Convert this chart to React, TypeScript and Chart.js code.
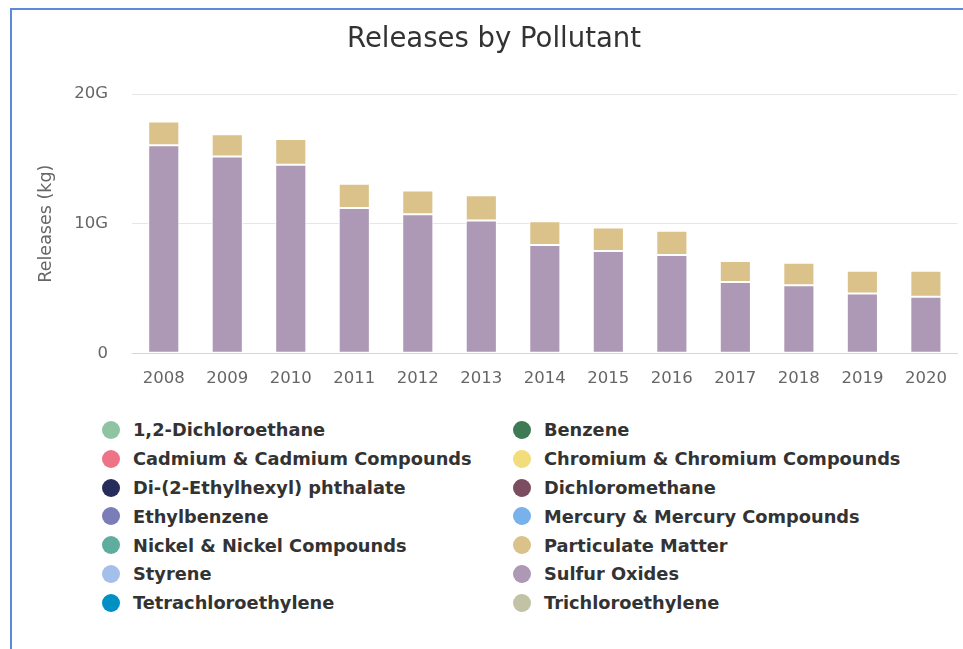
import React, { useEffect, useRef } from "react";
import { Chart, registerables } from "chart.js";

Chart.register(...registerables);

// Reporting years
const years = ["2008", "2009", "2010", "2011", "2012", "2013", "2014", "2015", "2016", "2017", "2018", "2019", "2020"];

// Releases in billions of kilograms (G)
const sulfurOxides = [16.05, 15.18, 14.54, 11.2, 10.73, 10.24, 8.36, 7.9, 7.58, 5.5, 5.24, 4.62, 4.36];
const particulateMatter = [1.83, 1.72, 1.98, 1.87, 1.83, 1.96, 1.83, 1.8, 1.87, 1.62, 1.74, 1.74, 2.0];

// Y axis ticks (G)
const yTicks = [0, 10, 20];
const yTickLabels = ["0", "10G", "20G"];

// All pollutants in the legend, with their colours
const pollutants = [
  "1,2-Dichloroethane",
  "Benzene",
  "Cadmium & Cadmium Compounds",
  "Chromium & Chromium Compounds",
  "Di-(2-Ethylhexyl) phthalate",
  "Dichloromethane",
  "Ethylbenzene",
  "Mercury & Mercury Compounds",
  "Nickel & Nickel Compounds",
  "Particulate Matter",
  "Styrene",
  "Sulfur Oxides",
  "Tetrachloroethylene",
  "Trichloroethylene",
];
const pollutantColors = [
  "#8ec4a2",
  "#3e7a53",
  "#ef7386",
  "#f3dc7c",
  "#262d5a",
  "#7c4c61",
  "#7a7db7",
  "#77b2ea",
  "#5fad9f",
  "#dbc28a",
  "#a4bfea",
  "#ad98b5",
  "#0090c4",
  "#c2c2a5",
];

const seriesValues: Record<string, number[]> = {
  "Sulfur Oxides": sulfurOxides,
  "Particulate Matter": particulateMatter,
};

const FONT = "'DejaVu Sans', Verdana, sans-serif";

export default function App() {
  const canvasRef = useRef<HTMLCanvasElement | null>(null);

  useEffect(() => {
    if (!canvasRef.current) return;
    // Sulfur Oxides sits at the bottom of each stack, Particulate Matter above it
    const stackOrder = ["Sulfur Oxides", "Particulate Matter", ...pollutants.filter((p) => !(p in seriesValues))];
    const datasets = stackOrder.map((name) => ({
      label: name,
      data: seriesValues[name] ?? [],
      backgroundColor: pollutantColors[pollutants.indexOf(name)],
      borderColor: "#ffffff",
      borderWidth: 1,
      borderSkipped: false as const,
      barPercentage: 0.49,
      categoryPercentage: 1.0,
    }));

    const chart = new Chart(canvasRef.current, {
      type: "bar",
      data: { labels: years, datasets },
      options: {
        animation: false,
        responsive: false,
        layout: { padding: { left: 16, right: 3, top: 0, bottom: 0 } },
        plugins: {
          legend: { display: false },
          tooltip: { enabled: false },
          title: {
            display: true,
            text: "Releases by Pollutant",
            color: "#333333",
            font: { family: FONT, size: 27.5, weight: "normal" },
            padding: { top: 13, bottom: 38 },
          },
        },
        scales: {
          x: {
            stacked: true,
            grid: { display: false, drawTicks: false },
            border: { display: true, color: "#ccd6eb", width: 1 },
            ticks: {
              color: "#666666",
              font: { family: FONT, size: 16.5 },
              padding: 16,
              maxRotation: 0,
            },
            afterFit: (scale: any) => {
              scale.height = 56.7;
            },
          },
          y: {
            stacked: true,
            min: 0,
            max: 20,
            afterBuildTicks: (scale: any) => {
              scale.ticks = yTicks.map((v) => ({ value: v }));
            },
            grid: {
              drawTicks: false,
              color: (ctx: any) => (ctx.tick && ctx.tick.value === 0 ? "rgba(0,0,0,0)" : "#e6e6e6"),
              lineWidth: 1,
            },
            border: { display: false },
            ticks: {
              color: "#666666",
              font: { family: FONT, size: 16.5 },
              padding: 24,
              callback: (value: any) => yTickLabels[yTicks.indexOf(Number(value))] ?? "",
            },
            title: {
              display: true,
              text: "Releases (kg)",
              color: "#666666",
              font: { family: FONT, size: 17.5 },
              padding: { top: 7.5, bottom: 0 },
            },
            afterFit: (scale: any) => {
              scale.width = 104;
            },
          },
        },
      },
    });
    return () => chart.destroy();
  }, []);

  return (
    <div
      style={{
        position: "fixed",
        left: 10,
        top: 8,
        right: 0,
        bottom: 0,
        borderTop: "2px solid #5b8ad6",
        borderLeft: "2px solid #5b8ad6",
        background: "#ffffff",
        overflow: "hidden",
      }}
    >
      <canvas ref={canvasRef} width={951} height={400} style={{ display: "block" }} />
      <div
        style={{
          display: "grid",
          gridTemplateColumns: "411px 411px",
          gridAutoRows: "28.8px",
          paddingLeft: 90,
          marginTop: 5.6,
          fontFamily: FONT,
          fontWeight: "bold",
          fontSize: 17.8,
          color: "#333333",
        }}
      >
        {pollutants.map((name, i) => (
          <div key={name} style={{ display: "flex", alignItems: "center", whiteSpace: "nowrap" }}>
            <span
              style={{
                display: "inline-block",
                width: 18,
                height: 18,
                borderRadius: "50%",
                background: pollutantColors[i],
                marginRight: 13,
                flex: "0 0 auto",
              }}
            />
            <span>{name}</span>
          </div>
        ))}
      </div>
    </div>
  );
}
